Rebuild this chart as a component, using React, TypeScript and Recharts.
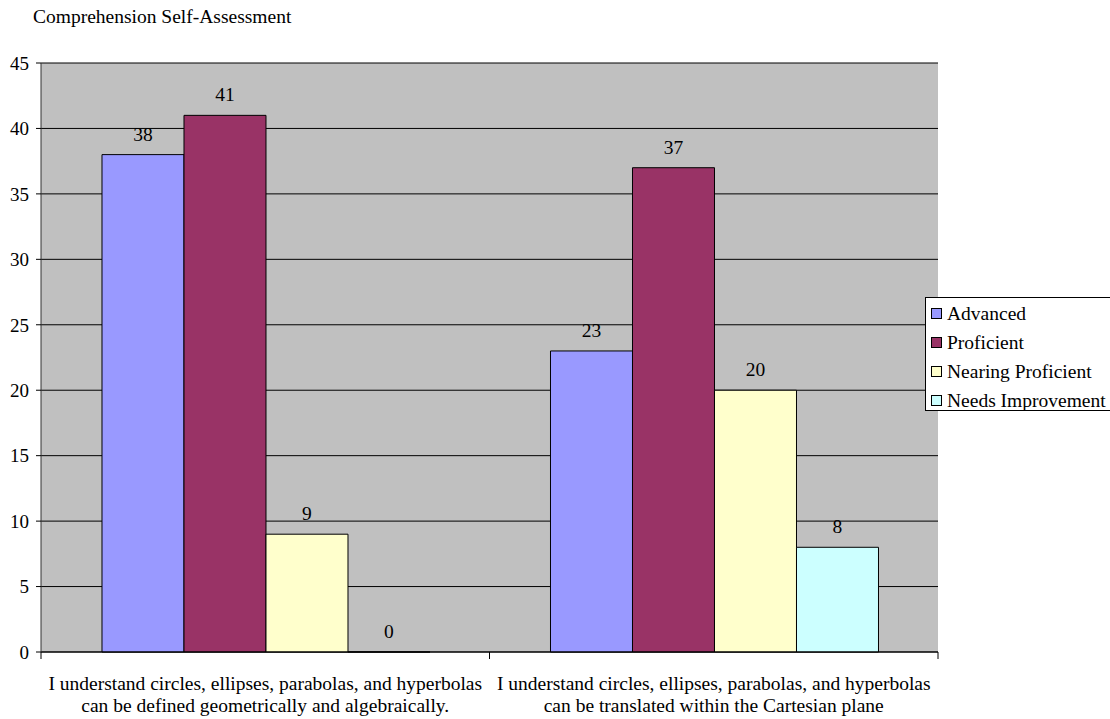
import React from 'react';
import { BarChart, Bar, XAxis, YAxis, CartesianGrid, LabelList } from 'recharts';

const categories = [
  ['I understand circles, ellipses, parabolas, and hyperbolas', 'can be defined geometrically and algebraically.'],
  ['I understand circles, ellipses, parabolas, and hyperbolas', 'can be translated within the Cartesian plane'],
];
const advanced = [38, 23];
const proficient = [41, 37];
const nearingProficient = [9, 20];
const needsImprovement = [0, 8];
const yTicks = [0, 5, 10, 15, 20, 25, 30, 35, 40, 45];

const series = [
  { key: 'advanced', name: 'Advanced', color: '#9999FF' },
  { key: 'proficient', name: 'Proficient', color: '#993366' },
  { key: 'nearing', name: 'Nearing Proficient', color: '#FFFFCC' },
  { key: 'needs', name: 'Needs Improvement', color: '#CCFFFF' },
];

const data = categories.map((lines, i) => ({
  name: lines.join(' '),
  lines,
  advanced: advanced[i],
  proficient: proficient[i],
  nearing: nearingProficient[i],
  needs: needsImprovement[i],
}));

const FONT = '"Liberation Serif", "Times New Roman", serif';
const BAND = (938 - 41) / categories.length;

function CategoryTick(props: any) {
  const { x, y, payload, index } = props;
  const lines = data[index]?.lines ?? [payload.value];
  return (
    <g>
      <line x1={x - BAND / 2} y1={y - 8} x2={x - BAND / 2} y2={y - 1} stroke="#000" />
      {index === categories.length - 1 && (
        <line x1={x + BAND / 2} y1={y - 8} x2={x + BAND / 2} y2={y - 1} stroke="#000" />
      )}
      {lines.map((l: string, i: number) => (
        <text key={i} x={x} y={y + 30 + i * 22} textAnchor="middle" fontSize={19.5} fontFamily={FONT} fill="#000">
          {l}
        </text>
      ))}
    </g>
  );
}

function TopLabel(props: any) {
  const { x, y, width, value } = props;
  return (
    <text x={x + width / 2} y={y - 14} textAnchor="middle" fontSize={19.5} fontFamily={FONT} fill="#000">
      {value}
    </text>
  );
}

function LegendBox() {
  return (
    <div
      style={{
        position: 'absolute',
        left: 925,
        top: 297,
        border: '1px solid #000',
        borderRight: 'none',
        background: '#fff',
        padding: '1px 0 0 5px',
        width: 186,
        height: 114,
        boxSizing: 'border-box',
        fontFamily: FONT,
        fontSize: 19.5,
        color: '#000',
      }}
    >
      {series.map((s) => (
        <div key={s.key} style={{ display: 'flex', alignItems: 'center', height: 29, whiteSpace: 'nowrap' }}>
          <span
            style={{
              display: 'inline-block',
              width: 9,
              height: 9,
              background: s.color,
              border: '1px solid #000',
              marginRight: 5,
            }}
          />
          {s.name}
        </div>
      ))}
    </div>
  );
}

export default function App() {
  return (
    <div style={{ position: 'absolute', left: 0, top: 0, width: 1110, height: 719, background: '#fff', overflow: 'hidden' }}>
      <div style={{ position: 'absolute', left: 33, top: 6, fontFamily: FONT, fontSize: 19.5, color: '#000' }}>
        Comprehension Self-Assessment
      </div>
      <BarChart
        width={1110}
        height={719}
        data={data}
        margin={{ top: 63, right: 172, bottom: 0, left: 0 }}
        barCategoryGap="13.6%"
        barGap={0}
      >
        <CartesianGrid vertical={false} stroke="#000" fill="#C0C0C0" fillOpacity={1} />
        <XAxis
          dataKey="name"
          height={67}
          tickLine={false}
          axisLine={{ stroke: '#000' }}
          tick={<CategoryTick />}
          interval={0}
        />
        <YAxis
          width={41}
          domain={[0, 45]}
          ticks={yTicks}
          interval={0}
          tickSize={5}
          tickMargin={7}
          tickLine={{ stroke: '#000' }}
          axisLine={{ stroke: '#333' }}
          tick={{ fontSize: 19, fontFamily: FONT, fill: '#000' }}
        />
        {series.map((s) => (
          <Bar
            key={s.key}
            dataKey={s.key}
            name={s.name}
            fill={s.color}
            stroke="#000"
            strokeWidth={1}
            minPointSize={0.01}
            isAnimationActive={false}
          >
            <LabelList dataKey={s.key} content={<TopLabel />} />
          </Bar>
        ))}
      </BarChart>
      <LegendBox />
    </div>
  );
}
